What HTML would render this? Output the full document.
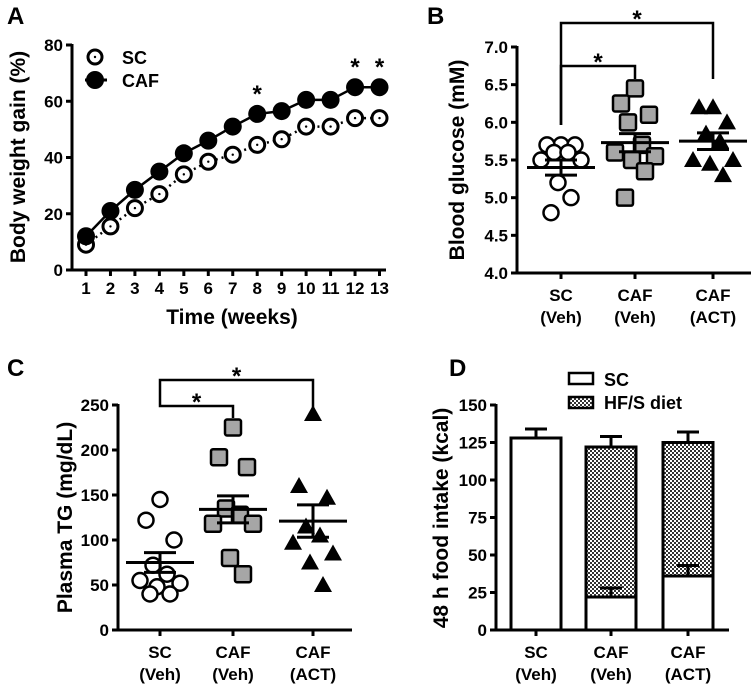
<!DOCTYPE html>
<html><head><meta charset="utf-8"><style>
html,body{margin:0;padding:0;background:#fff}
svg{display:block;font-family:"Liberation Sans",Arial,sans-serif;font-weight:bold}
</style></head><body>
<svg id="fig" width="756" height="690" viewBox="0 0 756 690" xmlns="http://www.w3.org/2000/svg">
<defs>
<pattern id="chk" width="4" height="4" patternUnits="userSpaceOnUse">
<rect width="4" height="4" fill="#fff"/><rect width="2" height="2" fill="#333"/><rect x="2" y="2" width="2" height="2" fill="#333"/>
</pattern>
</defs>
<g id="A"></g>
<g id="B"></g>
<g id="C"></g>
<g id="D"></g>
</svg>
<script>
// Panel A data
const weeks = [1,2,3,4,5,6,7,8,9,10,11,12,13];
const scGain = [9,15.5,22,27,34,38.5,41,44.5,46.5,51,51,54,54];
const cafGain = [12,21,28.5,35,41.5,46,51,55.5,56.5,60.5,60.5,65,65];
const aStars = [8,12,13];
const aTicks = [0,20,40,60,80];
// Panel B data
const groupLabels = [["SC","(Veh)"],["CAF","(Veh)"],["CAF","(ACT)"]];
const bSC = [5.7,5.7,5.7,5.6,5.6,5.5,5.5,5.2,5.0,4.8];
const bCAF = [6.45,6.25,6.1,6.0,5.7,5.6,5.55,5.5,5.35,5.0];
const bACT = [6.2,6.2,6.0,5.85,5.75,5.5,5.5,5.45,5.3];
const bMean = [5.4,5.73,5.75];
const bSem = [0.1,0.12,0.11];
const bTicks = [4.0,4.5,5.0,5.5,6.0,6.5,7.0];
// Panel C data
const cSC = [145,122,100,72,62,55,52,48,40,40];
const cCAF = [225,192,181,135,128,118,118,80,62];
const cACT = [240,160,147,115,105,97,85,75,50];
const cMean = [75,134,121];
const cSem = [11,15,18];
const cTicks = [0,50,100,150,200,250];
// Panel D data
const dSCpart = [128,22,36];
const dSCerr = [6,6,7];
const dTotal = [128,122,125];
const dTotErr = [6,7,7];
const dTicks = [0,25,50,75,100,125,150];

const NS="http://www.w3.org/2000/svg";
const TF=17, CF=17, TT=21;
function mk(p,tag,at,txt){const e=document.createElementNS(NS,tag);for(const k in at)e.setAttribute(k,at[k]);if(txt!==undefined)e.textContent=txt;p.appendChild(e);return e;}
function lin(d0,d1,r0,r1){return v=>r0+(v-d0)/(d1-d0)*(r1-r0);}
function jit(i){return [0,-14,14,-7,7,-20,20,-3,10,-10][i%10];}

function yAxis(g,x,y,ticks,fmt,yTop,yBot){
  const ax=mk(g,'line',{x1:x,y1:yTop,x2:x,y2:yBot,stroke:'#000','stroke-width':3});
  
  ticks.forEach(t=>{mk(g,'line',{x1:x-6,y1:y(t),x2:x,y2:y(t),stroke:'#000','stroke-width':3});
    const tl=mk(g,'text',{x:x-9,y:y(t)+6,'text-anchor':'end','font-size':TF},fmt(t));
    });
}
function yTitle(g,x,cy,txt){const t=mk(g,'text',{x:x,y:cy,'text-anchor':'middle','font-size':TT,transform:`rotate(-90 ${x} ${cy})`},txt);
  }
function letter(g,x,y,l){const t=mk(g,'text',{x:x,y:y,'font-size':24},l);}
function catLabels(g,xs,y){xs.forEach((x,i)=>{const t=mk(g,'text',{x:x,y:y,'text-anchor':'middle','font-size':CF},groupLabels[i][0]);
  
  const t2=mk(g,'text',{x:x,y:y+22,'text-anchor':'middle','font-size':CF},groupLabels[i][1]);
  });}
function bracket(g,x1,x2,yb,yl1,yl2){mk(g,'path',{d:`M${x1} ${yl1} V${yb} H${x2} V${yl2}`,fill:'none',stroke:'#000','stroke-width':2.5});
  const s=mk(g,'text',{x:(x1+x2)/2,y:yb+4,'text-anchor':'middle','font-size':24},'*');}
function marker(g,type,x,y){let e;
  if(type==='c')e=mk(g,'circle',{cx:x,cy:y,r:7.5,fill:'#fff',stroke:'#000','stroke-width':2.5});
  else if(type==='s')e=mk(g,'rect',{x:x-8,y:y-8,width:16,height:16,rx:2,fill:'#a6a6a6',stroke:'#000','stroke-width':2.5});
  else e=mk(g,'path',{d:`M${x} ${y-9} L${x+9} ${y+7} L${x-9} ${y+7} Z`,fill:'#000'});
  }
function meanBar(g,x,y,m,s){mk(g,'line',{x1:x-34,y1:y(m),x2:x+34,y2:y(m),stroke:'#000','stroke-width':3});
  mk(g,'line',{x1:x,y1:y(m-s),x2:x,y2:y(m+s),stroke:'#000','stroke-width':3});
  mk(g,'line',{x1:x-16,y1:y(m-s),x2:x+16,y2:y(m-s),stroke:'#000','stroke-width':3});
  mk(g,'line',{x1:x-16,y1:y(m+s),x2:x+16,y2:y(m+s),stroke:'#000','stroke-width':3});}

// ---- Panel A
(function(){const g=document.getElementById('A');
 const x=lin(1,13,86,379.5), y=lin(0,80,270,45);
 letter(g,7,24,'A');
 yAxis(g,72,y,aTicks,t=>t,44,271);
 mk(g,'line',{x1:70,y1:270,x2:386,y2:270,stroke:'#000','stroke-width':3});
 weeks.forEach(w=>{mk(g,'line',{x1:x(w),y1:270,x2:x(w),y2:276,stroke:'#000','stroke-width':3});
  const t=mk(g,'text',{x:x(w),y:294,'text-anchor':'middle','font-size':TF},w);});
 const xt=mk(g,'text',{x:232,y:324,'text-anchor':'middle','font-size':TT},'Time (weeks)');
 yTitle(g,25,157,'Body weight gain (%)');
 const l1=mk(g,'polyline',{points:weeks.map((w,i)=>x(w)+','+y(scGain[i])).join(' '),fill:'none',stroke:'#000','stroke-width':2.5,'stroke-dasharray':'2 4'});
 
 const l2=mk(g,'polyline',{points:weeks.map((w,i)=>x(w)+','+y(cafGain[i])).join(' '),fill:'none',stroke:'#000','stroke-width':2.5});
 
 weeks.forEach((w,i)=>{const c=mk(g,'circle',{cx:x(w),cy:y(scGain[i]),r:7.5,fill:'#fff',stroke:'#000','stroke-width':3});
  mk(g,'circle',{cx:x(w),cy:y(scGain[i]),r:1.2,fill:'#000'});});
 weeks.forEach((w,i)=>{const c=mk(g,'circle',{cx:x(w),cy:y(cafGain[i]),r:9,fill:'#000'});});
 aStars.forEach(w=>{const i=weeks.indexOf(w);const s=mk(g,'text',{x:x(w),y:y(cafGain[i])-12,'text-anchor':'middle','font-size':24},'*');});
 const lg=mk(g,'g',{});
 mk(lg,'circle',{cx:95,cy:57,r:7,fill:'#fff',stroke:'#000','stroke-width':3});mk(lg,'circle',{cx:95,cy:57,r:1.2,fill:'#000'});
 mk(lg,'text',{x:122,y:64,'font-size':18},'SC');
 mk(lg,'circle',{cx:95,cy:80,r:9,fill:'#000'});mk(lg,'line',{x1:85,y1:80,x2:107,y2:80,stroke:'#000','stroke-width':3});
 mk(lg,'text',{x:122,y:87,'font-size':18},'CAF');
})();

// ---- Scatter panels
function scatter(id,L,ax,y0,y1,py0,py1,ticks,fmt,title,titleX,data,means,sems,cx,axEnd,br){
 const g=document.getElementById(id);const y=lin(y0,y1,py0,py1);
 letter(g,L[1],L[2],L[0]);
 yAxis(g,ax,y,ticks,fmt,py1-1,py0+1);
 mk(g,'line',{x1:ax-1,y1:py0,x2:axEnd,y2:py0,stroke:'#000','stroke-width':3});
 cx.forEach(x=>mk(g,'line',{x1:x,y1:py0,x2:x,y2:py0+6,stroke:'#000','stroke-width':3}));
 catLabels(g,cx,py0+28);
 yTitle(g,titleX,(py0+py1)/2,title);
 ['c','s','t'].forEach((tp,k)=>{const sg=mk(g,'g',{});
  data[k].forEach((v,i)=>marker(sg,tp,cx[k]+jit(i),y(v)));});
 means.forEach((m,k)=>meanBar(g,cx[k],y,m,sems[k]));
 bracket(g,cx[0],cx[1],br[1],br[2],br[3]);
 bracket(g,cx[0],cx[2],br[0],br[2],br[4]);
}
scatter('B',['B',427,24],517,4.0,7.0,273,47,bTicks,t=>t.toFixed(1),'Blood glucose (mM)',464,[bSC,bCAF,bACT],bMean,bSem,[561,635,713],751,[23,66,125,79,79]);
scatter('C',['C',7,376],118,0,250,630,405,cTicks,t=>t,'Plasma TG (mg/dL)',72,[cSC,cCAF,cACT],cMean,cSem,[160,233,313],352,[380,406,404,418,418]);

// ---- Panel D
(function(){const g=document.getElementById('D');const y=lin(0,150,630,405);
 letter(g,449,376,'D');
 yAxis(g,496,y,dTicks,t=>t,404,631);
 const cx=[536,611,688];
 yTitle(g,448,518,'48 h food intake (kcal)');
 cx.forEach((x,k)=>{
  if(dTotal[k]>dSCpart[k]){const r=mk(g,'rect',{x:x-25,y:y(dTotal[k]),width:50,height:y(dSCpart[k])-y(dTotal[k]),fill:'url(#chk)',stroke:'#000','stroke-width':3});
   }
  const r2=mk(g,'rect',{x:x-25,y:y(dSCpart[k]),width:50,height:630-y(dSCpart[k]),fill:'#fff',stroke:'#000','stroke-width':3});
  
  [[dTotal[k],dTotErr[k]],[dSCpart[k],dSCerr[k]]].forEach(([v,e],j)=>{if(j===1&&dTotal[k]===dSCpart[k])return;
   mk(g,'line',{x1:x,y1:y(v),x2:x,y2:y(v+e),stroke:'#000','stroke-width':3});
   mk(g,'line',{x1:x-11,y1:y(v+e),x2:x+11,y2:y(v+e),stroke:'#000','stroke-width':3});});
 });
 mk(g,'line',{x1:495,y1:630,x2:729,y2:630,stroke:'#000','stroke-width':3});
 cx.forEach(x=>mk(g,'line',{x1:x,y1:630,x2:x,y2:636,stroke:'#000','stroke-width':3}));
 catLabels(g,cx,658);
 const lg=mk(g,'g',{});
 mk(lg,'rect',{x:569,y:373,width:24,height:11,fill:'#fff',stroke:'#000','stroke-width':2.5});
 mk(lg,'text',{x:604,y:386,'font-size':18},'SC');
 mk(lg,'rect',{x:569,y:397,width:24,height:11,fill:'url(#chk)',stroke:'#000','stroke-width':2.5});
 mk(lg,'text',{x:604,y:409,'font-size':18},'HF/S diet');
})();
</script>
</body></html>
